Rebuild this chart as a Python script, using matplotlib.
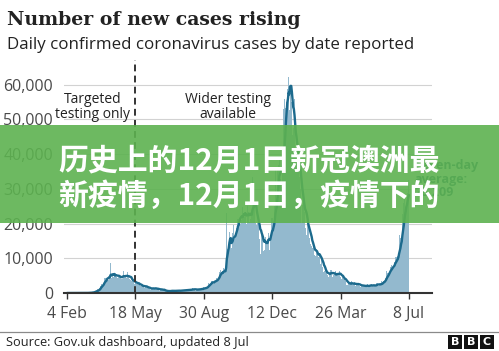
import numpy as np
import pandas as pd
import matplotlib
matplotlib.use("Agg")
import matplotlib.pyplot as plt
from matplotlib.patches import Rectangle

# ---------------- data (daily new cases by date reported, UK) ----------------
start_date = "2020-02-04"
feb_2020 = [0, 0, 1, 0, 0, 1, 4, 0, 1, 0, 0, 0, 0, 0, 0, 0, 0, 0, 0, 0, 4, 0, 0, 2, 5, 3]
mar_2020 = [12, 4, 11, 34, 29, 48, 45, 69, 43, 62, 77, 130, 208, 342, 251, 152, 407, 676, 643, 714,
            1035, 665, 967, 1427, 1452, 2129, 2885, 2546, 2433, 2619, 3009]
apr_2020 = [4324, 4244, 4450, 3735, 5903, 3802, 3634, 5491, 4344, 8681, 5233, 4342, 5252, 4603, 4617,
            5599, 5525, 5850, 4676, 4301, 4451, 4583, 5386, 4913, 4463, 4309, 3996, 4076, 6032, 6201]
may_2020 = [4806, 4339, 4806, 3985, 4406, 6111, 5614, 4649, 3896, 3923, 3877, 3403, 3242, 3446, 3560,
            3451, 2684, 3142, 2412, 2472, 2615, 3287, 2959, 2405, 1625, 2004, 2013, 1887, 2095, 2445, 1936]
jun_2020 = [1570, 1613, 1871, 1805, 1650, 1557, 1326, 1205, 1387, 1003, 1266, 1541, 1425, 1514, 1056,
            1279, 1218, 1346, 1295, 1221, 958, 1221, 874, 653, 1118, 1380, 890, 901, 815, 689]
jul_2020 = [829, 576, 544, 624, 516, 352, 581, 630, 512, 651, 820, 650, 530, 538, 463, 642, 687, 827,
            726, 580, 445, 560, 769, 768, 767, 747, 685, 581, 763, 846, 880]
aug_2020 = [771, 744, 938, 670, 892, 950, 871, 758, 1062, 816, 1148, 1009, 1441, 1002, 1077, 1040, 713,
            1089, 812, 1182, 1033, 1288, 1041, 853, 1184, 1048, 1522, 1276, 1108, 1715, 1406]
sep_2020 = [1295, 1508, 1735, 1940, 1813, 2988, 2948, 2460, 2659, 2919, 3539, 3497, 3330, 2621, 3105,
            3991, 3395, 4322, 4422, 3899, 4368, 4926, 6178, 6634, 6874, 6042, 5693, 4044, 7143, 7108]
oct_2020 = [6914, 6968, 12872, 22961, 12594, 14542, 14162, 17540, 13864, 15166, 12872, 13972, 17234,
            19724, 18980, 15650, 16171, 16982, 18804, 21331, 26688, 21242, 20530, 23012, 19790, 20890,
            22885, 24701, 23065, 24405, 21915]
nov_2020 = [23254, 18950, 20018, 25177, 24141, 23287, 24957, 20572, 21350, 20412, 22950, 33470, 27301,
            26860, 24962, 21363, 20051, 19609, 22915, 20252, 19875, 18662, 15450, 11299, 18213, 17555,
            16022, 15871, 12155, 12330]
dec_2020 = [13430, 16170, 14879, 16298, 15539, 17272, 14718, 12282, 16578, 20964, 21672, 21502, 18447,
            20263, 18450, 25161, 35383, 28507, 27052, 35928, 33364, 36804, 39237, 39036, 32725, 30501,
            34693, 41385, 53135, 50023, 55892]
jan_2021 = [53285, 57725, 54990, 58784, 60916, 62322, 52618, 68053, 59937, 54940, 46169, 45533, 47525,
            48682, 55761, 41346, 38598, 37535, 33355, 38905, 37892, 40261, 33552, 30004, 22195, 20089,
            25308, 28680, 29079, 23275, 21088]
feb_2021 = [18607, 16840, 19202, 20634, 19114, 18262, 15845, 14104, 12364, 13494, 13013, 15144, 13308,
            10972, 9765, 10625, 12718, 12057, 12027, 10406, 9834, 10641, 8489, 9938, 9985, 8523, 7434, 6035]
mar_2021 = [5455, 6391, 6385, 5766, 6040, 5177, 5177, 4712, 5766, 5926, 6753, 6609, 5534, 4618, 5089,
            5294, 5758, 6303, 4802, 5587, 5312, 5342, 5379, 6397, 6187, 4715, 4052, 3862, 4654, 4052, 4040]
apr_2021 = [4479, 3423, 3402, 2297, 2762, 2379, 2763, 3150, 2694, 3224, 1730, 3568, 2472, 2491, 2657,
            3030, 2596, 1882, 2963, 2524, 2396, 2729, 2678, 2061, 1712, 2064, 1946, 2166, 2381, 2445]
may_2021 = [1907, 1671, 1649, 1946, 2613, 2490, 2047, 1770, 1742, 2357, 2284, 2657, 2284, 2193, 1926,
            1823, 1979, 2412, 2696, 2874, 2829, 2439, 1979, 2235, 2439, 2493, 3542, 3180, 3240, 3398, 3383]
jun_2021 = [3165, 4330, 5274, 6238, 5765, 5341, 5683, 6048, 7540, 7393, 8125, 7738, 7490, 7742, 7673,
            9055, 11007, 10476, 10321, 9284, 10633, 11625, 16135, 16703, 15810, 18270, 14876, 22868,
            20479, 26068]
jul_2021 = [27989, 27125, 24885, 24248, 27334, 28773, 32548, 32551]

tick_dates = ["2020-02-04", "2020-05-18", "2020-08-30", "2020-12-12", "2021-03-26", "2021-07-08"]
tick_labels = ["4 Feb", "18 May", "30 Aug", "12 Dec", "26 Mar", "8 Jul"]
y_ticks = [0, 10000, 20000, 30000, 40000, 50000, 60000]
testing_change_date = "2020-05-18"
latest_average_label = "28,209"

title = "Number of new cases rising"
subtitle = "Daily confirmed coronavirus cases by date reported"
source = "Source: Gov.uk dashboard, updated 8 Jul"
banner_lines = ["历史上的12月1日新冠澳洲最", "新疫情，12月1日，疫情下的"]

# ---------------- assemble ----------------
cases = np.array(feb_2020 + mar_2020 + apr_2020 + may_2020 + jun_2020 + jul_2020 + aug_2020 + sep_2020
                 + oct_2020 + nov_2020 + dec_2020 + jan_2021 + feb_2021 + mar_2021 + apr_2021
                 + may_2021 + jun_2021 + jul_2021, dtype=float)
t0 = pd.Timestamp(start_date)
dates = pd.date_range(t0, periods=len(cases), freq="D")
days = np.array((dates - t0).days, dtype=float)
avg = pd.Series(cases).rolling(7, min_periods=1).mean().values
tick_pos = [(pd.Timestamp(d) - t0).days for d in tick_dates]
change_pos = (pd.Timestamp(testing_change_date) - t0).days

# ---------------- figure ----------------
W, H = 499, 351
fig = plt.figure(figsize=(W / 100, H / 100), dpi=100)
fig.patch.set_facecolor("white")
SANS = ["Open Sans", "DejaVu Sans"]
SERIF = ["DejaVu Serif"]

def fx(px):
    return px / W

def fy(py):
    return 1 - py / H

ax_left, ax_right, ax_top, ax_bottom = 64, 432, 50, 293
ax = fig.add_axes([fx(ax_left), fy(ax_bottom), (ax_right - ax_left) / W, (ax_bottom - ax_top) / H])
ax.set_facecolor("none")

ax.bar(days, cases, width=1.0, color="#93b9ce", linewidth=0, zorder=2)
ax.plot(days, avg, color="#1c6a8d", lw=1.7, zorder=3, solid_capstyle="round")

ax.set_xlim(-4.5, 555)
ax.set_ylim(0, 70000)
ax.set_yticks(y_ticks)
ax.set_yticklabels([f"{v:,}" for v in y_ticks], fontsize=11.5, color="#4a4a4a", family=SANS)
ax.set_xticks(tick_pos)
ax.set_xticklabels(tick_labels, fontsize=11.3, color="#4a4a4a", family=SANS)
ax.tick_params(axis="y", length=0, pad=8)
ax.tick_params(axis="x", length=4, width=1, color="#333333", pad=5)
ax.yaxis.grid(True, color="#d2d2d2", lw=0.8, zorder=0)
ax.set_axisbelow(True)
for s in ["left", "right", "top"]:
    ax.spines[s].set_visible(False)
ax.spines["bottom"].set_color("#333333")
ax.spines["bottom"].set_linewidth(1.5)
ax.spines["bottom"].set_zorder(4)

ax.plot([change_pos, change_pos], [0, 67000], color="#333333", lw=1.4, dashes=(3.5, 2.2), zorder=4, clip_on=False)

ax.text(change_pos - 64.5, 58000, "Targeted\ntesting only", ha="center", va="top", fontsize=10,
        color="#222222", family=SANS, linespacing=1.05, zorder=5)
ax.text(change_pos + 141, 58000, "Wider testing\navailable", ha="center", va="top", fontsize=10,
        color="#222222", family=SANS, linespacing=1.05, zorder=5)
ax.text(529, 38500, f"Seven-day\naverage:\n{latest_average_label}", ha="left", va="top", fontsize=9,
        fontweight="bold", color="#1c5a78", family=SANS, linespacing=1.05, zorder=5)

# titles
fig.text(fx(7), fy(25), title, fontsize=13.6, fontweight="bold", color="#222222", family=SERIF, va="baseline")
fig.text(fx(7), fy(49), subtitle, fontsize=12.2, color="#222222", family=SANS, va="baseline")

# footer
fig.add_artist(plt.Line2D([0, 1], [fy(332), fy(332)], color="#8a8a8a", lw=0.9, transform=fig.transFigure))
fig.text(fx(6), fy(346), source, fontsize=9.2, color="#222222", family=SANS, va="baseline")
for i, letter in enumerate("BBC"):
    x0 = 448 + i * 16
    fig.add_artist(Rectangle((fx(x0), fy(349)), 14 / W, 14 / H, transform=fig.transFigure,
                             facecolor="#111111", edgecolor="none"))
    fig.text(fx(x0 + 7), fy(342), letter, fontsize=8, fontweight="bold", color="white",
             family=["DejaVu Sans"], ha="center", va="center")

# green banner overlay
fig.add_artist(Rectangle((0, fy(223)), 1, 98 / H, transform=fig.transFigure,
                         facecolor="#5db250", edgecolor="none", alpha=0.9, zorder=10))
for i, line in enumerate(banner_lines):
    fig.text(fx(58), fy(160 + i * 36), line, fontsize=21.5, fontweight="bold", color="white",
             family=["Noto Sans CJK SC", "DejaVu Sans"], ha="left", va="center", zorder=11)

fig.savefig("out.png", dpi=100, facecolor="white")
